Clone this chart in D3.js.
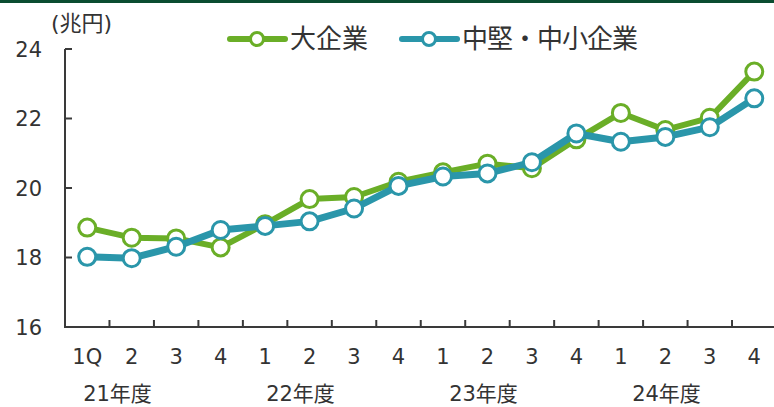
<!DOCTYPE html>
<html>
<head>
<meta charset="utf-8">
<script src="https://cdn.jsdelivr.net/npm/d3@7"></script>
<style>
  html, body { margin: 0; padding: 0; background: #fff; }
  svg { display: block; }
  text { font-family: "DejaVu Sans", "Noto Sans CJK JP", sans-serif; fill: #333; }
</style>
</head>
<body>
<svg id="chart" width="774" height="407"></svg>
<script>
// Quarterly values (兆円), FY2021 Q1 to FY2024 Q4
const quarterLabels = ["1Q", "2", "3", "4", "1", "2", "3", "4", "1", "2", "3", "4", "1", "2", "3", "4"];
const yearLabels = ["21年度", "22年度", "23年度", "24年度"];
const largeFirms = [18.86, 18.57, 18.55, 18.29, 18.96, 19.68, 19.74, 20.18, 20.45, 20.70, 20.57, 21.40, 22.16, 21.67, 22.02, 23.35];
const smeFirms   = [18.02, 17.98, 18.31, 18.79, 18.91, 19.04, 19.41, 20.06, 20.33, 20.42, 20.74, 21.57, 21.33, 21.47, 21.75, 22.58];
const yTicks = [16, 18, 20, 22, 24];
const seriesNames = ["大企業", "中堅・中小企業"];

const GREEN = "#6aae27";
const BLUE = "#2a96aa";
const AXIS = "#3a3a3a";

const svg = d3.select("#chart");

// top rule
svg.append("rect").attr("x", 0).attr("y", 0).attr("width", 774).attr("height", 3).attr("fill", "#0b4d31");

const x = d3.scaleBand().domain(d3.range(quarterLabels.length)).range([65, 776.5]).paddingInner(0).paddingOuter(0);
const cx = i => x(i) + x.bandwidth() / 2;
const y = d3.scaleLinear().domain([16, 24]).range([327, 49]);

// y axis
const yAxis = svg.append("g");
yAxis.append("line").attr("x1", 65).attr("x2", 65).attr("y1", y(24)).attr("y2", y(16))
  .attr("stroke", AXIS).attr("stroke-width", 2);
yAxis.selectAll("line.tick").data(yTicks.slice(1)).join("line").attr("class", "tick")
  .attr("x1", 65).attr("x2", 72).attr("y1", d => y(d)).attr("y2", d => y(d))
  .attr("stroke", AXIS).attr("stroke-width", 2);
yAxis.selectAll("text").data(yTicks).join("text")
  .attr("x", 42).attr("y", d => y(d)).attr("dy", "0.36em")
  .attr("text-anchor", "end").attr("font-size", 21).text(d => d);

// unit label
svg.append("text").attr("x", 51).attr("y", 31).attr("font-size", 22).text("(兆円)");

// x axis
const xAxis = svg.append("g");
xAxis.append("line").attr("x1", 64).attr("x2", 776.5).attr("y1", y(16)).attr("y2", y(16))
  .attr("stroke", AXIS).attr("stroke-width", 2);
xAxis.selectAll("line.tick").data(d3.range(1, quarterLabels.length + 1)).join("line").attr("class", "tick")
  .attr("x1", i => x(0) + i * x.bandwidth()).attr("x2", i => x(0) + i * x.bandwidth())
  .attr("y1", y(16)).attr("y2", y(16) - 7)
  .attr("stroke", AXIS).attr("stroke-width", 2);
xAxis.selectAll("text.q").data(quarterLabels).join("text").attr("class", "q")
  .attr("x", (d, i) => cx(i)).attr("y", 364)
  .attr("text-anchor", "middle").attr("font-size", 21).text(d => d);
const yearX = d3.scaleLinear().domain([0, yearLabels.length - 1]).range([117.5, 666.5]);
xAxis.selectAll("text.yr").data(yearLabels).join("text").attr("class", "yr")
  .attr("x", (d, i) => yearX(i)).attr("y", 401)
  .attr("text-anchor", "middle").attr("font-size", 21).text(d => d);

// series
const line = d3.line().x((d, i) => cx(i)).y(d => y(d));
function drawSeries(values, color, width) {
  const g = svg.append("g");
  g.append("path").datum(values).attr("d", line)
    .attr("fill", "none").attr("stroke", color).attr("stroke-width", width).attr("stroke-linejoin", "round");
  g.selectAll("circle").data(values).join("circle")
    .attr("cx", (d, i) => cx(i)).attr("cy", d => y(d)).attr("r", 8.5)
    .attr("fill", "#fff").attr("stroke", color).attr("stroke-width", 3);
}
drawSeries(largeFirms, GREEN, 6);
drawSeries(smeFirms, BLUE, 7);

// legend
const legendItems = [
  { name: seriesNames[0], color: GREEN, x0: 230, spacing: 0 },
  { name: seriesNames[1], color: BLUE, x0: 402, spacing: -1 }
];
const lg = svg.append("g");
legendItems.forEach(it => {
  lg.append("line").attr("x1", it.x0).attr("x2", it.x0 + 55).attr("y1", 39).attr("y2", 39)
    .attr("stroke", it.color).attr("stroke-width", 6).attr("stroke-linecap", "round");
  lg.append("circle").attr("cx", it.x0 + 27).attr("cy", 39).attr("r", 6.5)
    .attr("fill", "#fff").attr("stroke", it.color).attr("stroke-width", 3);
  lg.append("text").attr("x", it.x0 + 60).attr("y", 39).attr("dy", "0.36em")
    .attr("font-size", 26).attr("letter-spacing", it.spacing).text(it.name);
});
</script>
</body>
</html>
